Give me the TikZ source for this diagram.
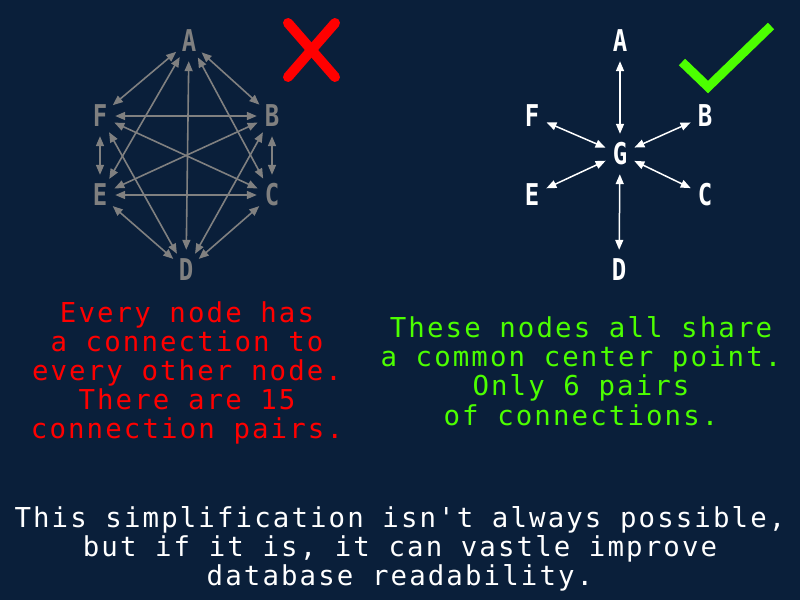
\documentclass[tikz,border=0pt]{standalone}
\usepackage{fontspec}
\usetikzlibrary{arrows.meta,shapes.geometric}
\newfontfamily\bodyfont[LetterSpace=7.7]{DejaVu Sans Mono}
\newfontfamily\letterfont[FakeStretch=0.8]{DejaVu Sans Mono Bold}
\definecolor{bgblue}{RGB}{10,31,58}
\definecolor{edgegrey}{RGB}{128,128,128}
\definecolor{okgreen}{RGB}{76,255,0}
\definecolor{badred}{RGB}{255,0,0}
\begin{document}
\begin{tikzpicture}[x=1pt,y=-1pt,
  vtx/.style={ellipse,inner sep=0pt,minimum width=30pt,minimum height=40pt,
    font=\letterfont\fontsize{30}{30}\selectfont},
  greyvtx/.style={vtx,text=edgegrey},
  whitevtx/.style={vtx,text=white},
  greyedge/.style={draw=edgegrey,line width=1.6pt,{Triangle[length=10pt,width=8pt]}-{Triangle[length=10pt,width=8pt]}},
  whiteedge/.style={draw=white,line width=1.5pt,{Triangle[length=10pt,width=8pt]}-{Triangle[length=10pt,width=8pt]}},
  txt/.style={anchor=base,inner sep=0pt,font=\bodyfont\fontsize{27.4}{29}\selectfont},
  redtxt/.style={txt,text=badred},
  greentxt/.style={txt,text=okgreen},
  whitetxt/.style={txt,text=white}]
\fill[bgblue] (0,0) rectangle (800,600);
\useasboundingbox (0,0) rectangle (800,600);

% left complete graph
\node[greyvtx] (LA) at (189,41) {A};
\node[greyvtx] (LB) at (272,116) {B};
\node[greyvtx] (LC) at (272,195) {C};
\node[greyvtx] (LD) at (186,270) {D};
\node[greyvtx] (LE) at (100,195) {E};
\node[greyvtx] (LF) at (100,116) {F};
\draw[greyedge] (LA) -- (LB);
\draw[greyedge] (LA) -- (LC);
\draw[greyedge] (LA) -- (LD);
\draw[greyedge] (LA) -- (LE);
\draw[greyedge] (LA) -- (LF);
\draw[greyedge] (LB) -- (LC);
\draw[greyedge] (LB) -- (LD);
\draw[greyedge] (LB) -- (LE);
\draw[greyedge] (LB) -- (LF);
\draw[greyedge] (LC) -- (LD);
\draw[greyedge] (LC) -- (LE);
\draw[greyedge] (LC) -- (LF);
\draw[greyedge] (LD) -- (LE);
\draw[greyedge] (LD) -- (LF);
\draw[greyedge] (LE) -- (LF);

% red cross
\draw[badred,line width=10pt,line cap=round] (288,23) -- (335,77);
\draw[badred,line width=10pt,line cap=round] (335,23) -- (288,77);

% right star graph
\node[whitevtx] (RA) at (620,41) {A};
\node[whitevtx] (RB) at (705,116) {B};
\node[whitevtx] (RC) at (705,195) {C};
\node[whitevtx] (RD) at (619,270) {D};
\node[whitevtx] (RE) at (532,195) {E};
\node[whitevtx] (RF) at (532,116) {F};
\node[whitevtx] (RG) at (620,154) {G};
\draw[whiteedge] (RG) -- (RA);
\draw[whiteedge] (RG) -- (RB);
\draw[whiteedge] (RG) -- (RC);
\draw[whiteedge] (RG) -- (RD);
\draw[whiteedge] (RG) -- (RE);
\draw[whiteedge] (RG) -- (RF);

% green check mark
\draw[okgreen,line width=9pt,line join=miter] (682,62) -- (708,87) -- (771,26);

% red caption
\node[redtxt] (r1) at (187,322) {Every node has};
\node[redtxt] (r2) at (187,351) {a connection to};
\node[redtxt] (r3) at (187,380) {every other node.};
\node[redtxt] (r4) at (187,409) {There are 15};
\node[redtxt] (r5) at (187,438) {connection pairs.};

% green caption
\node[greentxt] (g1) at (581,337) {These nodes all share};
\node[greentxt] (g2) at (581,366) {a common center point.};
\node[greentxt] (g3) at (581,395) {Only 6 pairs};
\node[greentxt] (g4) at (581,425) {of connections.};

% bottom caption
\node[whitetxt] (b1) at (400,527) {This simplification isn{\char"27}t always possible,};
\node[whitetxt] (b2) at (400,556) {but if it is, it can vastle improve};
\node[whitetxt] (b3) at (400,585) {database readability.};
\end{tikzpicture}
\end{document}
